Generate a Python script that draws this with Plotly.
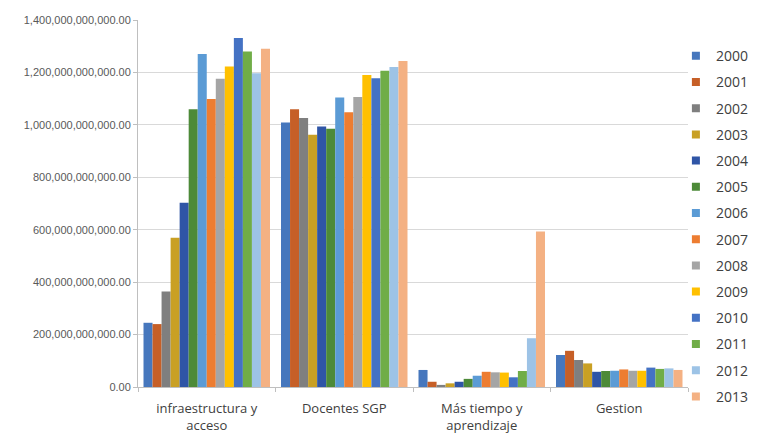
import plotly.graph_objects as go

categories = ["infraestructura y<br>acceso", "Docentes SGP", "Más tiempo y<br>aprendizaje", "Gestion"]
years = ["2000", "2001", "2002", "2003", "2004", "2005", "2006",
         "2007", "2008", "2009", "2010", "2011", "2012", "2013"]
# values in billions (1e9)
infra = [245, 240, 364, 569, 703, 1060, 1270, 1099, 1176, 1223, 1331, 1280, 1197, 1290]
docentes = [1009, 1060, 1026, 962, 994, 985, 1104, 1048, 1106, 1190, 1178, 1206, 1221, 1244]
mas_tiempo = [65, 20, 8, 14, 20, 31, 43, 58, 56, 55, 37, 61, 186, 593]
gestion = [122, 138, 103, 90, 58, 61, 62, 67, 62, 62, 74, 69, 71, 65]
colors = ["#4677bd", "#c65f27", "#7f7f7f", "#c9a024", "#2f55a6", "#4d8a38", "#5b9bd5",
          "#ed7d31", "#a5a5a5", "#ffc000", "#4472c4", "#70ad47", "#9dc3e6", "#f4b183"]

fig = go.Figure()
for i, y in enumerate(years):
    vals = [infra[i] * 1e9, docentes[i] * 1e9, mas_tiempo[i] * 1e9, gestion[i] * 1e9]
    fig.add_trace(go.Bar(x=categories, y=vals, name=y, legendgroup=y, showlegend=False,
                         marker=dict(color=colors[i], line=dict(width=0))))
for i, y in enumerate(years):
    fig.add_trace(go.Scatter(x=[None], y=[None], mode="markers", name=y, legendgroup=y,
                             marker=dict(symbol="square", size=8, color=colors[i])))

fig.update_layout(
    width=774, height=434,
    margin=dict(l=138, r=86, t=20, b=47, autoexpand=False),
    paper_bgcolor="white", plot_bgcolor="white",
    barmode="group", bargap=0.08, bargroupgap=0,
    font=dict(family="Open Sans", color="#404040"),
    legend=dict(x=0.978, y=0.945, xanchor="left", yanchor="top",
                font=dict(size=14, color="#404040"), tracegroupgap=5,
                traceorder="grouped", itemwidth=30, bgcolor="rgba(0,0,0,0)",
                maxheight=430),
    showlegend=True,
)
fig.update_yaxes(range=[0, 1.4e12], dtick=2e11, tickformat=",.2f",
                 showgrid=True, gridcolor="#d9d9d9", gridwidth=1,
                 showline=True, linecolor="#bfbfbf", ticks="outside", ticklen=4,
                 tickcolor="#bfbfbf", zeroline=False, automargin=False,
                 tickfont=dict(family="Liberation Sans", size=11, color="#595959"))
fig.update_xaxes(showline=True, linecolor="#bfbfbf", ticks="outside", ticklen=4,
                 tickcolor="#bfbfbf", tickson="boundaries", ticklabelstandoff=9,
                 automargin=False,
                 tickfont=dict(family="Open Sans", size=13, color="#404040"))

fig.write_html("out.html")
